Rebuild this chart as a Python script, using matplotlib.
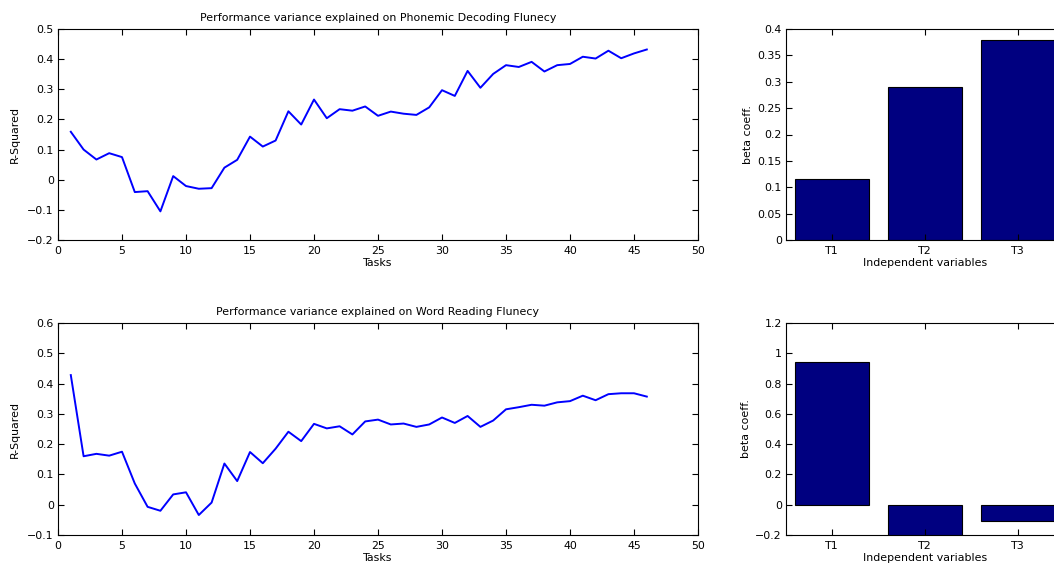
import matplotlib
matplotlib.use("Agg")
import matplotlib.pyplot as plt
import numpy as np

plt.rcParams['font.family'] = ['DejaVu Sans']

tasks = list(range(1, 47))
r2_phonemic = [0.159, 0.100, 0.067, 0.088, 0.075, -0.041, -0.038, -0.105, 0.012, -0.021,
               -0.030, -0.028, 0.040, 0.066, 0.143, 0.110, 0.130, 0.227, 0.183, 0.266,
               0.204, 0.234, 0.229, 0.243, 0.212, 0.226, 0.219, 0.215, 0.240, 0.297,
               0.278, 0.361, 0.305, 0.351, 0.380, 0.374, 0.391, 0.359, 0.380, 0.384,
               0.408, 0.402, 0.428, 0.403, 0.419, 0.432]
r2_word = [0.428, 0.160, 0.168, 0.162, 0.175, 0.070, -0.007, -0.020, 0.034, 0.041,
           -0.034, 0.007, 0.136, 0.078, 0.174, 0.137, 0.185, 0.241, 0.210, 0.267,
           0.252, 0.259, 0.232, 0.275, 0.281, 0.265, 0.268, 0.257, 0.265, 0.288,
           0.270, 0.293, 0.257, 0.278, 0.315, 0.322, 0.330, 0.327, 0.338, 0.342,
           0.360, 0.345, 0.365, 0.368, 0.368, 0.357]

variables = ['T1', 'T2', 'T3']
beta_phonemic = [0.115, 0.290, 0.380]
beta_word = [0.945, -0.21, -0.11]

W, H = 1054, 570
fig = plt.figure(figsize=(W / 100, H / 100), dpi=100)

def pos(l, t, r, b):
    return [l / W, 1 - b / H, (r - l) / W, (b - t) / H]

FS = 7.9

def fmt(v):
    s = ('%g' % v)
    return s.replace('-', '\u2212')

def style(ax):
    ax.tick_params(direction='in', top=True, right=True, labelsize=FS, length=4, width=0.8, pad=3)
    ax.tick_params(axis='x', pad=4)
    for s in ax.spines.values():
        s.set_linewidth(0.8)

def set_yt(ax, ticks):
    ax.set_yticks(ticks)
    ax.set_yticklabels([fmt(t) for t in ticks])

# Top line
ax1 = fig.add_axes(pos(58, 29, 698, 240))
ax1.plot(tasks, r2_phonemic, color='#0000ff', lw=1.4)
ax1.set_xlim(0, 50)
ax1.set_ylim(-0.2, 0.5)
ax1.set_xticks(range(0, 51, 5))
set_yt(ax1, [round(v, 1) for v in np.arange(-0.2, 0.51, 0.1)])
ax1.set_title('Performance variance explained on Phonemic Decoding Flunecy', fontsize=FS, pad=6)
ax1.set_xlabel('Tasks', fontsize=FS, labelpad=2)
ax1.set_ylabel('R-Squared', fontsize=FS, labelpad=5)
style(ax1)

# Bottom line
ax2 = fig.add_axes(pos(58, 323, 698, 535))
ax2.plot(tasks, r2_word, color='#0000ff', lw=1.4)
ax2.set_xlim(0, 50)
ax2.set_ylim(-0.1, 0.6)
ax2.set_xticks(range(0, 51, 5))
set_yt(ax2, [round(v, 1) for v in np.arange(-0.1, 0.61, 0.1)])
ax2.set_title('Performance variance explained on Word Reading Flunecy', fontsize=FS, pad=6)
ax2.set_xlabel('Tasks', fontsize=FS, labelpad=2)
ax2.set_ylabel('R-Squared', fontsize=FS, labelpad=5)
style(ax2)

# Top bar
xb = np.arange(1, 4)
ax3 = fig.add_axes(pos(786, 29, 1064, 240))
ax3.bar(xb, beta_phonemic, width=0.8, color='#000080', edgecolor='black', lw=0.8)
ax3.set_xlim(0.5, 3.5)
ax3.set_ylim(0, 0.4)
ax3.set_xticks(xb)
ax3.set_xticklabels(variables)
set_yt(ax3, [round(v, 2) for v in np.arange(0, 0.41, 0.05)])
ax3.set_xlabel('Independent variables', fontsize=FS, labelpad=2)
ax3.set_ylabel('beta coeff.', fontsize=FS, labelpad=3)
style(ax3)

# Bottom bar
ax4 = fig.add_axes(pos(786, 323, 1064, 535))
ax4.bar(xb, beta_word, width=0.8, color='#000080', edgecolor='black', lw=0.8)
ax4.set_xlim(0.5, 3.5)
ax4.set_ylim(-0.2, 1.2)
ax4.set_xticks(xb)
ax4.set_xticklabels(variables)
set_yt(ax4, [round(v, 1) for v in np.arange(-0.2, 1.21, 0.2)])
ax4.set_xlabel('Independent variables', fontsize=FS, labelpad=2)
ax4.set_ylabel('beta coeff.', fontsize=FS, labelpad=3)
style(ax4)

fig.savefig('out.png', dpi=100)
